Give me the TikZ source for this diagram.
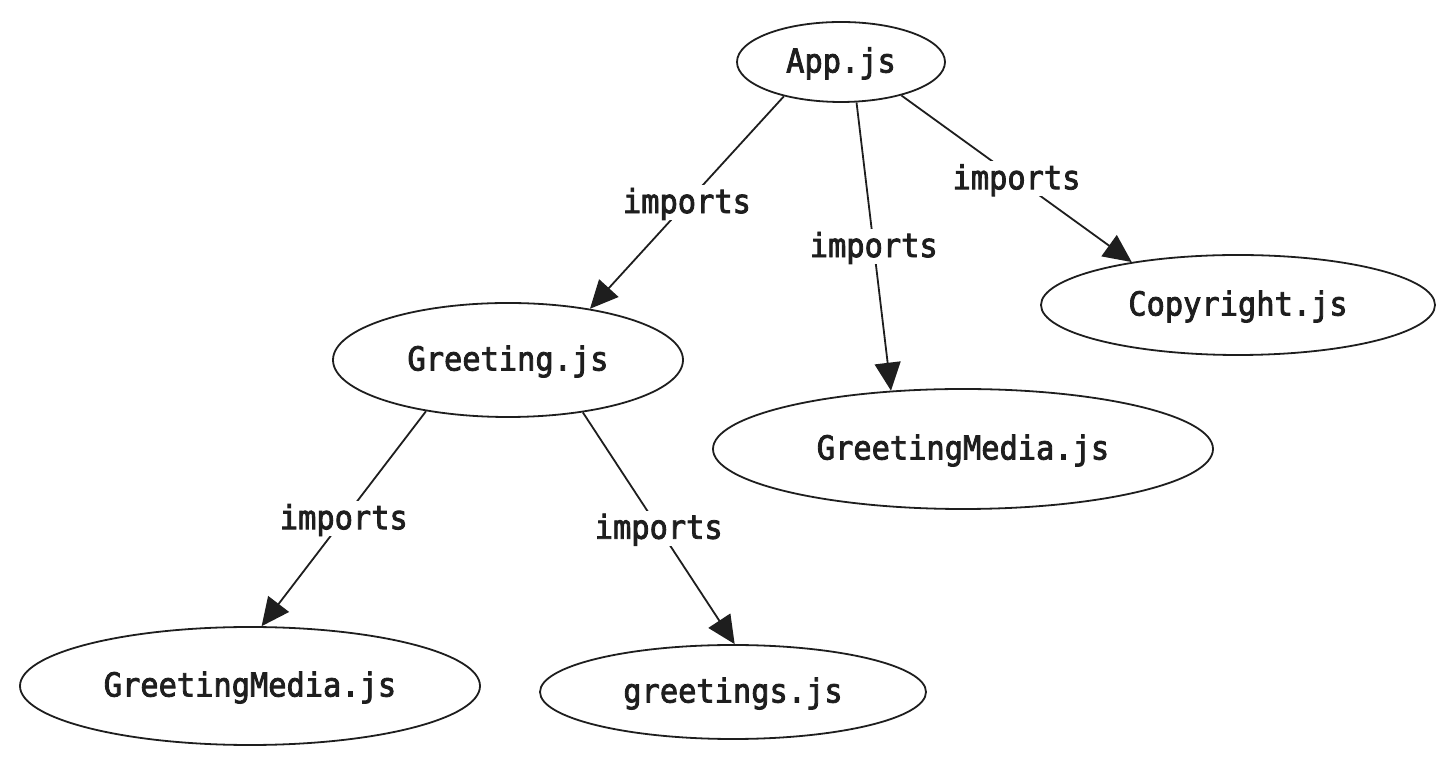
\documentclass[tikz,border=0pt]{standalone}
\usepackage{fontspec}
\usetikzlibrary{shapes.geometric,arrows.meta}
\newfontfamily\monofnt[FakeStretch=0.92,FakeBold=2.5]{DejaVu Sans Mono}
\definecolor{ink}{RGB}{30,30,30}
\begin{document}
\begin{tikzpicture}[x=1pt,y=1pt,
  txt/.style={text=ink,text height=26pt,text depth=5pt,
    font=\monofnt\fontsize{33}{38}\selectfont},
  file/.style={ellipse,draw=ink,line width=1.8pt,inner sep=0pt,txt},
  lbl/.style={fill=white,inner sep=2pt,txt},
  imp/.style={draw=ink,line width=1.8pt,-{Triangle[length=28pt,width=26pt]}}]
\useasboundingbox (0,0) rectangle (1455,765);
\node[file,minimum width=208pt,minimum height=80pt] (app) at (841,703) {App.js};
\node[file,minimum width=350pt,minimum height=114pt] (greet) at (508,405) {Greeting.js};
\node[file,minimum width=500pt,minimum height=120pt] (gmr) at (963,316) {GreetingMedia.js};
\node[file,minimum width=394pt,minimum height=100pt] (copy) at (1238,460) {Copyright.js};
\node[file,minimum width=460pt,minimum height=118pt] (gml) at (250,79) {GreetingMedia.js};
\node[file,minimum width=386pt,minimum height=94pt] (gs) at (733,73) {greetings.js};
\draw[imp] (app.211) -- node[lbl] (l1) {imports} (greet.32);
\draw[imp] (app.291) -- node[lbl] (l2) {imports} (gmr.141);
\draw[imp] (app.331) -- node[lbl] (l3) {imports} (copy.158);
\draw[imp] (greet.212) -- node[lbl] (l4) {imports} (gml.79);
\draw[imp] (greet.325) -- node[lbl] (l5) {imports} (gs.88);
\end{tikzpicture}
\end{document}
